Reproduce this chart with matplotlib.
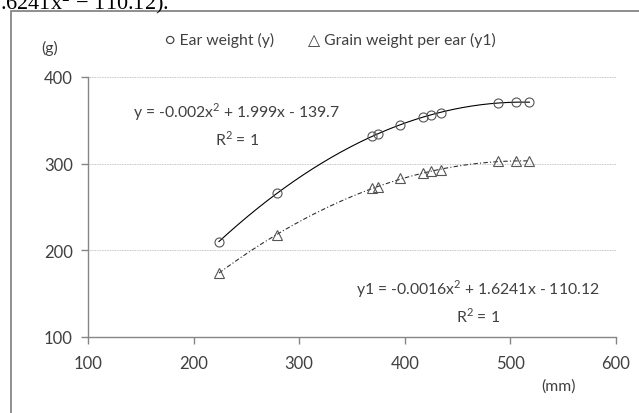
import numpy as np
import matplotlib.pyplot as plt
from matplotlib.patches import Rectangle

# spike length (mm) and weights (g)
length_mm = [224, 279, 369, 375, 395, 417, 425, 434, 488, 505, 518]
ear_weight = [210, 266, 332, 334, 345, 354, 356, 359, 370, 371, 371]
grain_weight = [174, 218, 272, 273, 283, 289, 291, 293, 303, 303, 303]

x_ticks = [100, 200, 300, 400, 500, 600]
y_ticks = [100, 200, 300, 400]

eq_y = 'y = -0.002x$^2$ + 1.999x - 139.7\nR$^2$ = 1'
eq_y1 = 'y1 = -0.0016x$^2$ + 1.6241x - 110.12\nR$^2$ = 1'

plt.rcParams['font.family'] = ['Lato', 'DejaVu Sans']
plt.rcParams['mathtext.fontset'] = 'custom'
plt.rcParams['mathtext.rm'] = 'Lato'

fig = plt.figure(figsize=(6.39, 4.14), dpi=100)
ax = fig.add_axes([88 / 639, 1 - 338 / 414, (616 - 88) / 639, (338 - 78) / 414])

gray = '#868686'
txt = '#404040'
fs = 11.3

# outer chart frame (cropped in the original)
fig.patches.append(Rectangle((11 / 639, -0.1), 1.2, 1 - 12 / 414 + 0.1,
                             transform=fig.transFigure, fill=False,
                             edgecolor=gray, linewidth=1.3))

# caption line of the page, cut off at the top of the picture
fig.text(0.0, 1 - 9 / 414, '.6241x$^2$ \u2212 110.12).', family='Liberation Serif',
         fontsize=16, color='black', ha='left', va='baseline', math_fontfamily='stix')

x = np.array(length_mm)
xs = np.linspace(x.min(), x.max(), 200)
c1 = np.polyfit(x, ear_weight, 2)
c2 = np.polyfit(x, grain_weight, 2)

ax.plot(xs, np.polyval(c1, xs), color='black', linewidth=0.8)
ax.plot(xs, np.polyval(c2, xs), color='#303030', linewidth=0.8, linestyle=(0, (4, 2, 1, 2)))
ax.plot(x, ear_weight, 'o', markersize=6.5, markerfacecolor='none',
        markeredgecolor='#555555', markeredgewidth=0.8)
ax.plot(x, grain_weight, '^', markersize=6.5, markerfacecolor='none',
        markeredgecolor='#555555', markeredgewidth=0.8)

ax.set_xlim(100, 600)
ax.set_ylim(100, 400)
ax.set_xticks(x_ticks)
ax.set_yticks(y_ticks)
ax.yaxis.grid(True, color='#b0b0b0', linestyle=(0, (1, 1)), linewidth=0.6)
ax.set_axisbelow(True)
for s in ['top', 'right']:
    ax.spines[s].set_visible(False)
for s in ['left', 'bottom']:
    ax.spines[s].set_color(gray)
    ax.spines[s].set_linewidth(1.0)
ax.tick_params(colors=gray, labelcolor=txt, labelsize=12, length=5, width=1.0)
ax.tick_params(axis='x', pad=8)
ax.tick_params(axis='y', pad=6)

fig.text(237 / 639, 1 - 125 / 414, eq_y, ha='center', va='center', fontsize=fs,
         color=txt, linespacing=1.45)
fig.text(478 / 639, 1 - 302 / 414, eq_y1, ha='center', va='center', fontsize=fs,
         color=txt, linespacing=1.45)

fig.text(50 / 639, 1 - 48 / 414, '(g)', ha='center', va='center', fontsize=fs, color=txt)
fig.text(558 / 639, 1 - 387 / 414, '(mm)', ha='center', va='center', fontsize=fs, color=txt)
fig.text(165 / 639, 1 - 40 / 414, '\u25cb Ear weight (y)', ha='left', va='center',
         fontsize=fs, color=txt)
fig.text(308 / 639, 1 - 40 / 414, '\u25b3 Grain weight per ear (y1)', ha='left', va='center',
         fontsize=fs, color=txt)

fig.savefig('out.png', dpi=100)
